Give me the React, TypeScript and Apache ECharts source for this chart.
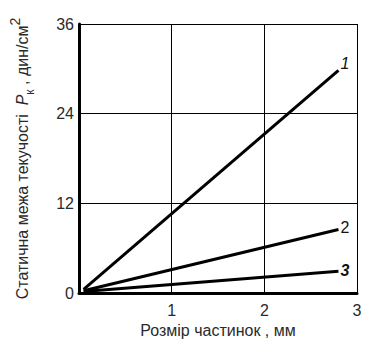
import React, { useEffect, useRef } from "react";
import * as echarts from "echarts";

const particleSize = [0.05, 2.8];
const curve1 = [0.5, 29.8];
const curve2 = [0.3, 8.5];
const curve3 = [0.2, 2.9];
const curveLabels = ["1", "2", "3"];
const yTicks = [0, 12, 24, 36];
const xTicks = [0, 1, 2, 3];

const FONT = "Liberation Sans, Arial, sans-serif";
const TXT = "#2a2a2a";

export default function App() {
  const ref = useRef<HTMLDivElement>(null);
  useEffect(() => {
    if (!ref.current) return;
    const chart = echarts.init(ref.current, null, { renderer: "svg" });
    const mk = (vals: number[], i: number, lblStyle: any, offset: number[]) => ({
      type: "line",
      data: particleSize.map((x, k) => [x, vals[k]]),
      symbol: "none",
      lineStyle: { color: "#000", width: 3 },
      endLabel: {
        show: true,
        formatter: curveLabels[i],
        color: "#111",
        fontFamily: FONT,
        fontSize: 16,
        distance: 2,
        offset,
        ...lblStyle,
      },
    });
    chart.setOption({
      animation: false,
      backgroundColor: "#fff",
      grid: { left: 71, right: 14, top: 24, bottom: 59, containLabel: false },
      xAxis: {
        type: "value",
        min: xTicks[0],
        max: xTicks[xTicks.length - 1],
        interval: 1,
        name: "Розмір частинок , мм",
        nameLocation: "middle",
        nameGap: 27,
        nameTextStyle: { fontFamily: FONT, fontSize: 16, color: TXT },
        axisLine: { show: true, lineStyle: { color: "#000", width: 3 } },
        axisTick: { show: false },
        axisLabel: {
          fontFamily: FONT,
          fontSize: 16,
          color: TXT,
          margin: 9,
          formatter: (v: number) => (v === 0 ? "" : String(v)),
        },
        splitLine: { show: true, lineStyle: { color: "#000", width: 1 } },
      },
      yAxis: {
        type: "value",
        min: yTicks[0],
        max: yTicks[yTicks.length - 1],
        interval: 12,
        name: "Статична межа текучості  {i|P}{sub|к} , дин/см{sup|2}",
        nameLocation: "middle",
        nameGap: 43,
        nameRotate: 90,
        nameTextStyle: {
          fontFamily: FONT,
          fontSize: 16,
          color: TXT,
          rich: {
            i: { fontFamily: FONT, fontSize: 16, fontStyle: "italic", color: TXT, verticalAlign: "middle" },
            sub: { fontFamily: FONT, fontSize: 12, color: TXT, verticalAlign: "bottom", lineHeight: 28 },
            sup: { fontFamily: FONT, fontSize: 14, color: TXT, verticalAlign: "top", lineHeight: 26 },
          },
        },
        axisLine: { show: true, lineStyle: { color: "#000", width: 3 } },
        axisTick: { show: false },
        axisLabel: { fontFamily: FONT, fontSize: 16, color: TXT, margin: 5 },
        splitLine: { show: true, lineStyle: { color: "#000", width: 1 } },
      },
      series: [
        mk(curve1, 0, { fontStyle: "italic" }, [0, -7]),
        mk(curve2, 1, {}, [0, -2]),
        mk(curve3, 2, { fontStyle: "italic", fontWeight: "bold" }, [0, -1]),
      ],
    });
    return () => chart.dispose();
  }, []);
  return (
    <div
      ref={ref}
      style={{ position: "fixed", left: 0, top: 0, width: 371, height: 352 }}
    />
  );
}
